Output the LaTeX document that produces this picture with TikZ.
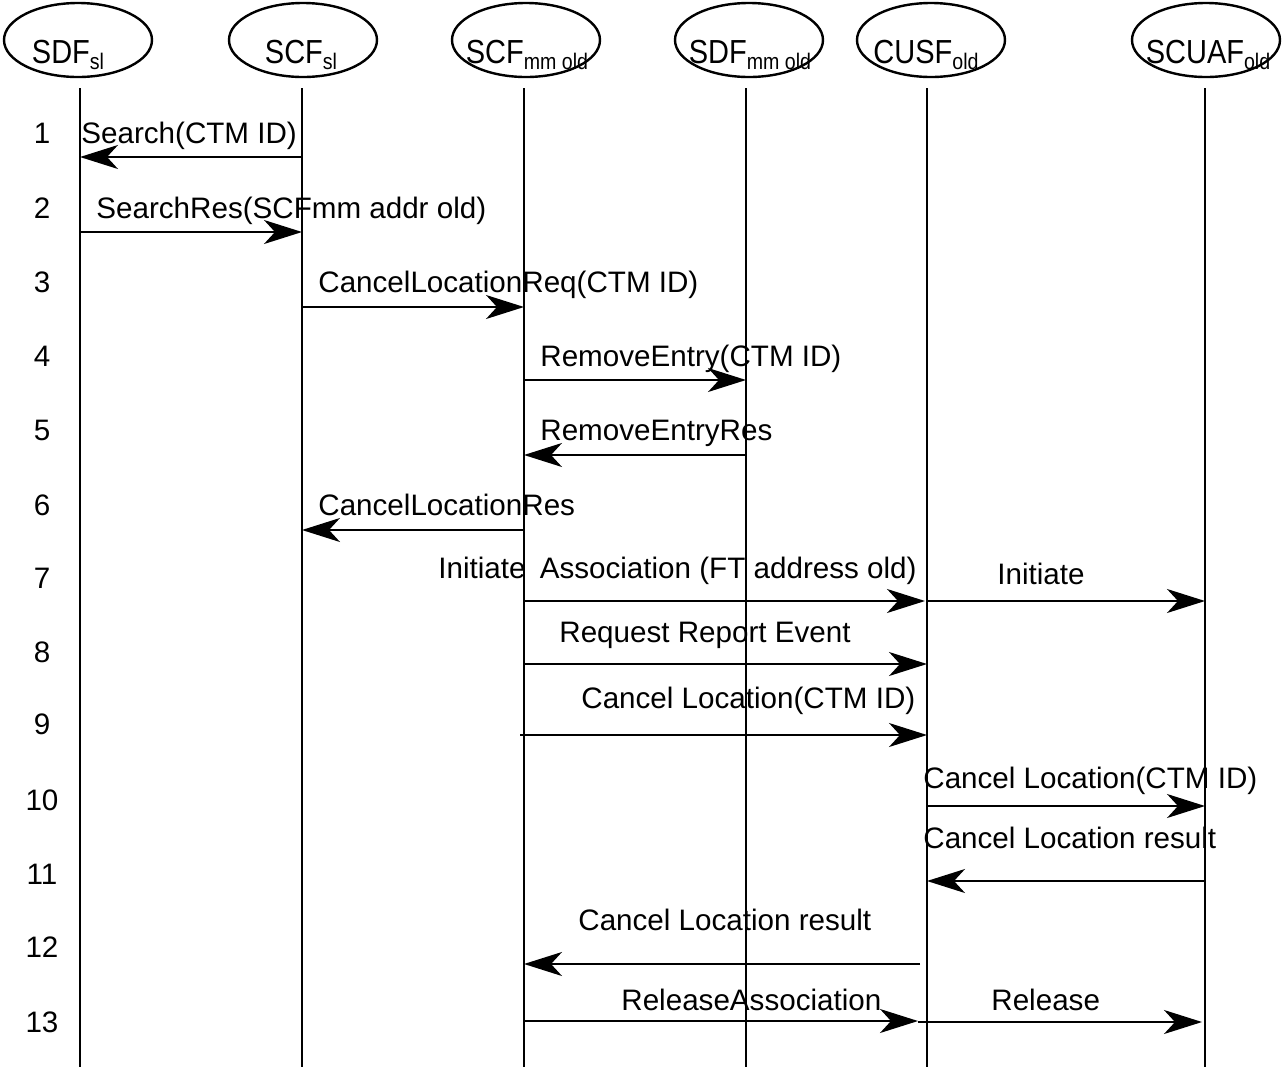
\documentclass[tikz,border=0pt]{standalone}
\usepackage{fontspec}
\setmainfont{Liberation Sans}
\usetikzlibrary{arrows.meta,shapes.geometric}
\tikzset{
  actor/.style={draw, line width=1.2pt, ellipse, minimum width=74pt, minimum height=37pt, inner sep=0pt},
  hdr/.style={font=\fontsize{14.5}{16}\selectfont, anchor=base},
  life/.style={line width=1pt},
  msg/.style={line width=1pt, -{Stealth[length=19pt, width=12pt, inset=5.5pt]}},
  lbl/.style={font=\fontsize{14.8}{17}\selectfont, anchor=base west, inner sep=0pt},
  num/.style={font=\fontsize{14.8}{17}\selectfont, anchor=base, inner sep=0pt},
}
% participant name with a lowered index, set slightly tall
\newcommand{\pname}[2]{\scalebox{1}[1.15]{#1\raisebox{-3pt}{\fontsize{9.8}{10}\selectfont #2}}}
\begin{document}
\begin{tikzpicture}[x=0.5pt,y=-0.5pt]
\useasboundingbox (0,0) rectangle (1282,1067);
% participants
\node[actor] (e1) at (78,40) {};
\node[actor] (e2) at (303,40) {};
\node[actor] (e3) at (526,40) {};
\node[actor] (e4) at (749,40) {};
\node[actor] (e5) at (931,40) {};
\node[actor] (e6) at (1206,40) {};
\node[hdr] (h1) at (68,63) {\pname{SDF}{sl}};
\node[hdr] (h2) at (301,63) {\pname{SCF}{sl}};
\node[hdr] (h3) at (527,63) {\pname{SCF}{mm old}};
\node[hdr] (h4) at (750,63) {\pname{SDF}{mm old}};
\node[hdr] (h5) at (926,63) {\pname{CUSF}{old}};
\node[hdr] (h6) at (1208,63) {\pname{SCUAF}{old}};
% lifelines
\foreach \i/\x in {1/80,2/302,3/524,4/746,5/927,6/1205}{
  \coordinate (t\i) at (\x,88);
  \coordinate (b\i) at (\x,1067);
  \draw[life] (t\i) -- (b\i);
}
% step numbers
\foreach \n/\y in {1/143,2/218,3/292,4/366,5/440,6/515,7/588,8/662,9/734,10/810,11/884,12/957,13/1032}{
  \node[num] (n\n) at (42,\y) {\n};
}
% messages
\coordinate (a1s) at (302,157); \coordinate (a1e) at (80,157);
\draw[msg] (a1s) -- (a1e);
\node[lbl] (l1) at (81,143) {Search(CTM ID)};
\coordinate (a2s) at (80,232); \coordinate (a2e) at (302,232);
\draw[msg] (a2s) -- (a2e);
\node[lbl] (l2) at (96,218) {SearchRes(SCFmm addr old)};
\coordinate (a3s) at (302,307); \coordinate (a3e) at (524,307);
\draw[msg] (a3s) -- (a3e);
\node[lbl] (l3) at (318,292) {CancelLocationReq(CTM ID)};
\coordinate (a4s) at (524,380); \coordinate (a4e) at (746,380);
\draw[msg] (a4s) -- (a4e);
\node[lbl] (l4) at (540,366) {RemoveEntry(CTM ID)};
\coordinate (a5s) at (746,455); \coordinate (a5e) at (524,455);
\draw[msg] (a5s) -- (a5e);
\node[lbl] (l5) at (540,440) {RemoveEntryRes};
\coordinate (a6s) at (524,530); \coordinate (a6e) at (302,530);
\draw[msg] (a6s) -- (a6e);
\node[lbl] (l6) at (318,515) {CancelLocationRes};
\coordinate (a7s) at (524,601); \coordinate (a7e) at (925,601);
\draw[msg] (a7s) -- (a7e);
\node[lbl] (l7) at (438,578) {Initiate\hspace{3pt} Association (FT address old)};
\coordinate (a7bs) at (927,601); \coordinate (a7be) at (1205,601);
\draw[msg] (a7bs) -- (a7be);
\node[lbl] (l7b) at (997,584) {Initiate};
\coordinate (a8s) at (524,664); \coordinate (a8e) at (927,664);
\draw[msg] (a8s) -- (a8e);
\node[lbl] (l8) at (559,642) {Request Report Event};
\coordinate (a9s) at (520,735); \coordinate (a9e) at (927,735);
\draw[msg] (a9s) -- (a9e);
\node[lbl] (l9) at (581,708) {Cancel Location(CTM ID)};
\coordinate (a10s) at (927,806); \coordinate (a10e) at (1205,806);
\draw[msg] (a10s) -- (a10e);
\node[lbl] (l10) at (923,788) {Cancel Location(CTM ID)};
\coordinate (a11s) at (1205,881); \coordinate (a11e) at (927,881);
\draw[msg] (a11s) -- (a11e);
\node[lbl] (l11) at (923,848) {Cancel Location result};
\coordinate (a12s) at (920,964); \coordinate (a12e) at (524,964);
\draw[msg] (a12s) -- (a12e);
\node[lbl] (l12) at (578,930) {Cancel Location result};
\coordinate (a13s) at (524,1021); \coordinate (a13e) at (918,1021);
\draw[msg] (a13s) -- (a13e);
\node[lbl] (l13) at (621,1010) {ReleaseAssociation};
\coordinate (a13bs) at (918,1022); \coordinate (a13be) at (1202,1022);
\draw[msg] (a13bs) -- (a13be);
\node[lbl] (l13b) at (991,1010) {Release};
\end{tikzpicture}
\end{document}
